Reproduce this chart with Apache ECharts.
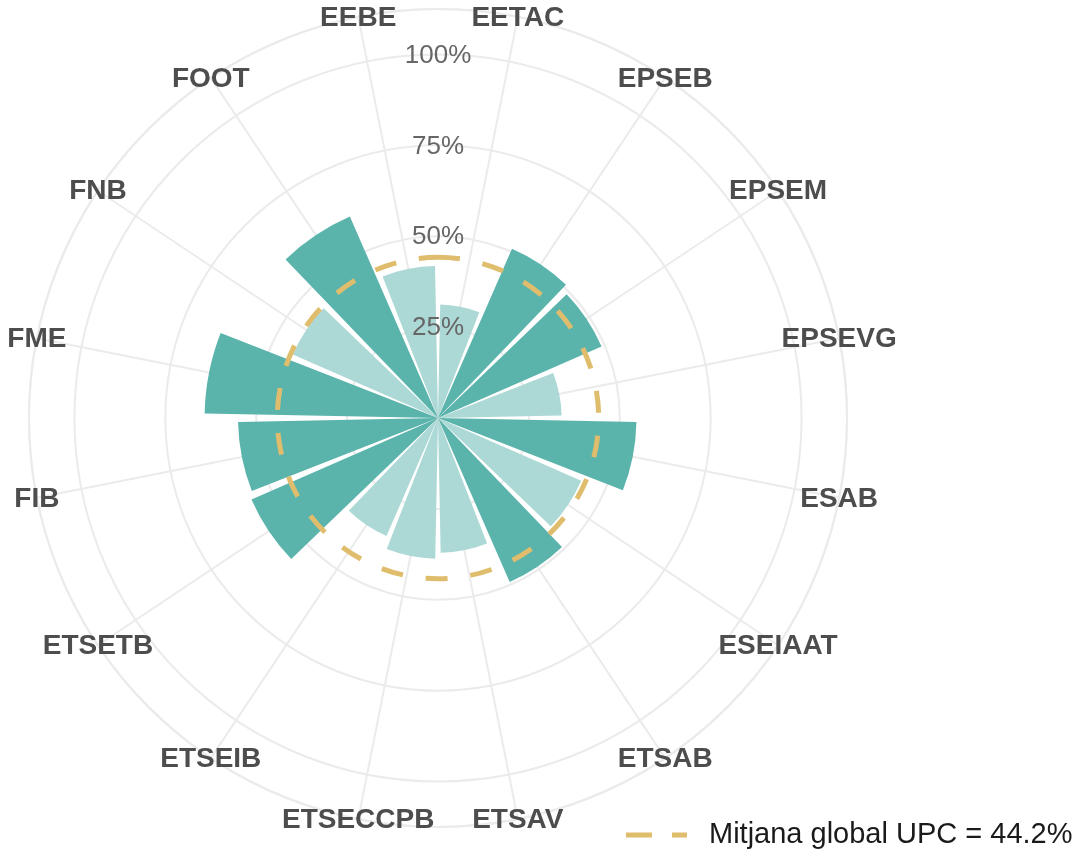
<!DOCTYPE html>
<html>
<head>
<meta charset="utf-8">
<script src="https://cdn.jsdelivr.net/npm/echarts@6/dist/echarts.min.js"></script>
<style>
  html, body { margin: 0; padding: 0; background: #fff; }
  #chart { width: 1078px; height: 849px; }
</style>
</head>
<body>
<div id="chart"></div>
<script>
// schools (clockwise, starting just left of 12 o'clock)
var schools = ['EEBE', 'EETAC', 'EPSEB', 'EPSEM', 'EPSEVG', 'ESAB', 'ESEIAAT', 'ETSAB',
               'ETSAV', 'ETSECCPB', 'ETSEIB', 'ETSETB', 'FIB', 'FME', 'FNB', 'FOOT'];
// percentage per school
var pct = [41.8, 31.2, 50.8, 49.1, 34.0, 54.6, 43.0, 49.2, 37.1, 38.7, 35.4, 56.0, 55.0, 64.2, 43.6, 60.5];
var globalMean = 44.2;
var pctTicks = [25, 50, 75, 100];
var rMax = 112.5;

var dark = '#5ab4ac';
var light = '#acd9d5';
var gold = '#dfbd6c';
var grid = '#ebebeb';
var meanName = 'Mitjana global UPC = ' + globalMean + '%';

var chart = echarts.init(document.getElementById('chart'));

var option = {
    animation: false,
    backgroundColor: '#fff',
    polar: [
        { center: [438, 418], radius: 409 },   // bars + spokes
        { center: [438, 418], radius: 409 }    // full circles + % labels
    ],
    angleAxis: [
        {
            polarIndex: 0,
            type: 'category',
            data: schools,
            startAngle: 101.25,
            boundaryGap: false,
            axisLine: { show: false },
            axisTick: { show: false },
            axisLabel: { show: false },
            splitLine: { show: true, interval: 0, lineStyle: { color: grid, width: 2 } }
        },
        {
            polarIndex: 1,
            type: 'value',
            min: 0, max: 360,
            startAngle: 90,
            axisLine: { show: true, lineStyle: { color: grid, width: 2 } },
            axisTick: { show: false },
            axisLabel: { show: false },
            splitLine: { show: false }
        }
    ],
    radiusAxis: [
        {
            polarIndex: 0,
            min: 0, max: rMax,
            show: false
        },
        {
            polarIndex: 1,
            min: 0, max: rMax, interval: 25,
            axisLine: { show: false },
            axisTick: { show: false },
            axisLabel: { show: false },
            splitLine: { show: true, lineStyle: { color: grid, width: 2 } }
        }
    ],
    legend: {
        left: 626,
        top: 820,
        padding: 0,
        itemWidth: 61,
        itemHeight: 5,
        data: [{ name: meanName, icon: 'path://M0,0H26V5H0Z M46,0H61V5H46Z', itemStyle: { color: gold } }],
        textStyle: {
            fontSize: 29,
            lineHeight: 30,
            color: '#1a1a1a',
            fontFamily: 'Liberation Sans',
            padding: [0, 0, 0, 17]
        }
    },
    series: [
        {
            type: 'bar',
            coordinateSystem: 'polar',
            polarIndex: 0,
            barCategoryGap: '10%',
            data: pct.map(function (v) {
                return { value: v, itemStyle: { color: v > globalMean ? dark : light } };
            }),
            z: 2
        },
        {
            type: 'custom',
            name: meanName,
            coordinateSystem: 'polar',
            polarIndex: 0,
            data: [[globalMean, 0]],
            itemStyle: { color: gold },
            silent: true,
            z: 5,
            renderItem: function (params, api) {
                var cs = params.coordSys;
                var p = api.coord([api.value(0), api.value(1)]);
                var r = Math.sqrt(Math.pow(p[0] - cs.cx, 2) + Math.pow(p[1] - cs.cy, 2));
                return {
                    type: 'arc',
                    shape: { cx: cs.cx, cy: cs.cy, r: r, startAngle: -Math.PI / 2, endAngle: Math.PI * 1.5, clockwise: true },
                    style: { fill: null, stroke: gold, lineWidth: 5, lineDash: [22, 23] }
                };
            }
        },
        {
            // school names, centred on the outer circle
            type: 'custom',
            coordinateSystem: 'polar',
            polarIndex: 0,
            silent: true,
            z: 6,
            data: schools.map(function (s, i) { return [rMax, i]; }),
            renderItem: function (params, api) {
                var p = api.coord([api.value(0), api.value(1)]);
                return {
                    type: 'text',
                    x: p[0], y: p[1] + 1,
                    style: {
                        text: schools[params.dataIndex],
                        align: 'center', verticalAlign: 'middle',
                        font: 'bold 28px "Liberation Sans"',
                        fill: '#4d4d4d'
                    }
                };
            }
        },
        {
            // percentage labels at the top of each ring
            type: 'custom',
            coordinateSystem: 'polar',
            polarIndex: 1,
            silent: true,
            z: 6,
            data: pctTicks.map(function (t) { return [t, 0]; }),
            renderItem: function (params, api) {
                var p = api.coord([api.value(0), api.value(1)]);
                return {
                    type: 'text',
                    x: p[0], y: p[1] + 1,
                    style: {
                        text: pctTicks[params.dataIndex] + '%',
                        align: 'center', verticalAlign: 'middle',
                        font: '26px "Liberation Sans"',
                        fill: '#666666'
                    }
                };
            }
        }
    ]
};

chart.setOption(option);
</script>
</body>
</html>
